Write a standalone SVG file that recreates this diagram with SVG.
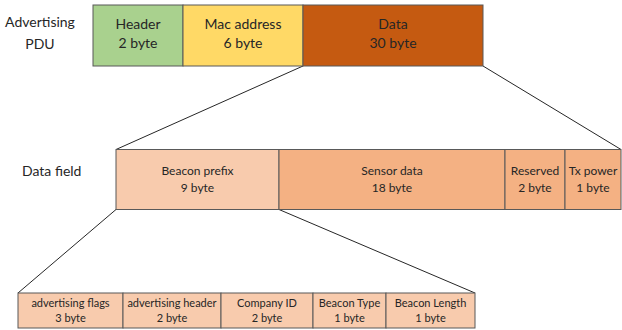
<svg xmlns="http://www.w3.org/2000/svg" width="622" height="330" viewBox="0 0 622 330">
  <style>
    .cell { stroke: #595959; stroke-width: 1; }
    .t { font-family: Lato, "Liberation Sans", sans-serif; fill: #262626; text-anchor: middle; }
    .big { font-size: 14px; }
    .mid { font-size: 12px; }
    .sm { font-size: 11px; }
    .lbl { font-family: Lato, "Liberation Sans", sans-serif; fill: #262626; font-size: 14px; }
    .link { stroke: #262626; stroke-width: 1; fill: none; }
  </style>
  <rect width="622" height="330" fill="#ffffff"/>

  <!-- expansion lines -->
  <g id="connectors">
    <line class="link" x1="303" y1="66" x2="116" y2="149.5"/>
    <line class="link" x1="483" y1="66" x2="621" y2="149.5"/>
    <line class="link" x1="116" y1="209.5" x2="18" y2="293"/>
    <line class="link" x1="279" y1="209.5" x2="475" y2="293"/>
  </g>

  <!-- Advertising PDU -->
  <text class="lbl" x="40" y="27" text-anchor="middle">Advertising</text>
  <text class="lbl" x="40" y="49" text-anchor="middle">PDU</text>
  <g id="header">
    <rect class="cell" x="93" y="5" width="90" height="61" fill="#A9D18E"/>
    <text class="t big" x="138" y="29">Header</text>
    <text class="t big" x="138" y="48">2 byte</text>
  </g>
  <g id="mac">
    <rect class="cell" x="183" y="5" width="120" height="61" fill="#FFD966"/>
    <text class="t big" x="243" y="29">Mac address</text>
    <text class="t big" x="243" y="48">6 byte</text>
  </g>
  <g id="data">
    <rect class="cell" x="303" y="5" width="180" height="61" fill="#C55A11"/>
    <text class="t big" x="393" y="29">Data</text>
    <text class="t big" x="393" y="48">30 byte</text>
  </g>

  <!-- Data field -->
  <text class="lbl" x="22" y="176">Data field</text>
  <g id="beacon-prefix">
    <rect class="cell" x="116" y="149.5" width="163" height="60" fill="#F8CBAD"/>
    <text class="t mid" x="197.5" y="175">Beacon prefix</text>
    <text class="t mid" x="197.5" y="192">9 byte</text>
  </g>
  <g id="sensor-data">
    <rect class="cell" x="279" y="149.5" width="226" height="60" fill="#F4B183"/>
    <text class="t mid" x="392" y="175">Sensor data</text>
    <text class="t mid" x="392" y="192">18 byte</text>
  </g>
  <g id="reserved">
    <rect class="cell" x="505" y="149.5" width="60" height="60" fill="#F4B183"/>
    <text class="t mid" x="535" y="175">Reserved</text>
    <text class="t mid" x="535" y="192">2 byte</text>
  </g>
  <g id="tx-power">
    <rect class="cell" x="565" y="149.5" width="56" height="60" fill="#F4B183"/>
    <text class="t mid" x="593" y="175">Tx power</text>
    <text class="t mid" x="593" y="192">1 byte</text>
  </g>

  <!-- Beacon prefix fields -->
  <g id="adv-flags">
    <rect class="cell" x="18" y="293" width="105" height="35" fill="#F8CBAD"/>
    <text class="t sm" x="70.5" y="307">advertising flags</text>
    <text class="t sm" x="70.5" y="322">3 byte</text>
  </g>
  <g id="adv-header">
    <rect class="cell" x="123" y="293" width="98" height="35" fill="#F8CBAD"/>
    <text class="t sm" x="172" y="307">advertising header</text>
    <text class="t sm" x="172" y="322">2 byte</text>
  </g>
  <g id="company-id">
    <rect class="cell" x="221" y="293" width="92" height="35" fill="#F8CBAD"/>
    <text class="t sm" x="267" y="307">Company ID</text>
    <text class="t sm" x="267" y="322">2 byte</text>
  </g>
  <g id="beacon-type">
    <rect class="cell" x="313" y="293" width="73" height="35" fill="#F8CBAD"/>
    <text class="t sm" x="349.5" y="307">Beacon Type</text>
    <text class="t sm" x="349.5" y="322">1 byte</text>
  </g>
  <g id="beacon-length">
    <rect class="cell" x="386" y="293" width="89" height="35" fill="#F8CBAD"/>
    <text class="t sm" x="430.5" y="307">Beacon Length</text>
    <text class="t sm" x="430.5" y="322">1 byte</text>
  </g>
</svg>
